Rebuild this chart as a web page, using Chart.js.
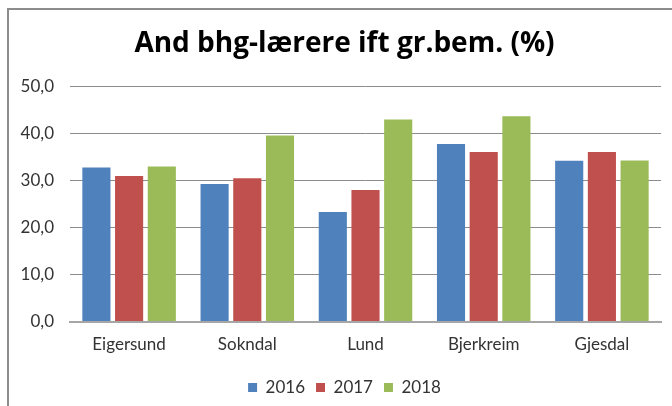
<!DOCTYPE html>
<html>
<head>
<meta charset="utf-8">
<script src="https://cdn.jsdelivr.net/npm/chart.js@4/dist/chart.umd.min.js"></script>
<style>
html,body{margin:0;padding:0;background:#fff;}
#wrap{position:relative;width:672px;height:406px;}
</style>
</head>
<body>
<div id="wrap"><canvas id="c" width="672" height="406"></canvas></div>
<script>
const categories = ["Eigersund", "Sokndal", "Lund", "Bjerkreim", "Gjesdal"];
const series2016 = [32.8, 29.3, 23.3, 37.8, 34.2];
const series2017 = [31.0, 30.5, 28.0, 36.1, 36.1];
const series2018 = [33.0, 39.6, 43.0, 43.7, 34.3];
const seriesLabels = ["2016", "2017", "2018"];
const titleText = "And bhg-lærere ift gr.bem. (%)";

const frame = {
  id: 'frame',
  beforeDraw(chart) {
    const ctx = chart.ctx;
    ctx.save();
    ctx.fillStyle = '#fff';
    ctx.fillRect(0, 0, chart.width, chart.height);
    ctx.strokeStyle = '#8c8c8c';
    ctx.lineWidth = 2;
    ctx.beginPath();
    ctx.moveTo(8, chart.height);
    ctx.lineTo(8, 9);
    ctx.lineTo(chart.width, 9);
    ctx.stroke();
    ctx.restore();
  }
};

new Chart(document.getElementById('c'), {
  type: 'bar',
  data: {
    labels: categories,
    datasets: [
      {label: seriesLabels[0], data: series2016, backgroundColor: '#4F81BD'},
      {label: seriesLabels[1], data: series2017, backgroundColor: '#C0504D'},
      {label: seriesLabels[2], data: series2018, backgroundColor: '#9BBB59'}
    ]
  },
  options: {
    responsive: false,
    animation: false,
    devicePixelRatio: 1,
    layout: {padding: {left: 17, right: 0, top: 10, bottom: 0}},
    datasets: {bar: {categoryPercentage: 0.83, barPercentage: 0.86}},
    plugins: {
      title: {
        display: true,
        text: titleText,
        color: '#000',
        font: {family: 'Open Sans', size: 28, weight: 'bold'},
        padding: {top: 17, bottom: 26}
      },
      legend: {
        position: 'bottom',
        labels: {
          color: '#333',
          font: {family: 'Lato', size: 17},
          boxWidth: 9, boxHeight: 9,
          padding: 11
        }
      },
      tooltip: {enabled: false}
    },
    scales: {
      x: {
        grid: {display: false, drawTicks: false},
        border: {display: true, color: '#a6a6a6', width: 2},
        ticks: {color: '#333', font: {family: 'Lato', size: 17}, padding: 13}
      },
      y: {
        min: 0, max: 50,
        afterFit(scale) { scale.width = 53; },
        grid: {color: '#8c8c8c', lineWidth: 1, drawTicks: false},
        border: {display: false},
        ticks: {
          stepSize: 10, color: '#333', padding: 16,
          font: {family: 'Lato', size: 17},
          callback: v => v.toFixed(1).replace('.', ',')
        }
      },
      yRight: {
        position: 'right',
        min: 0, max: 50,
        afterFit(scale) { scale.width = 11; },
        grid: {display: false, drawTicks: false},
        border: {display: false},
        ticks: {display: false}
      }
    }
  },
  plugins: [frame]
});
</script>
</body>
</html>
